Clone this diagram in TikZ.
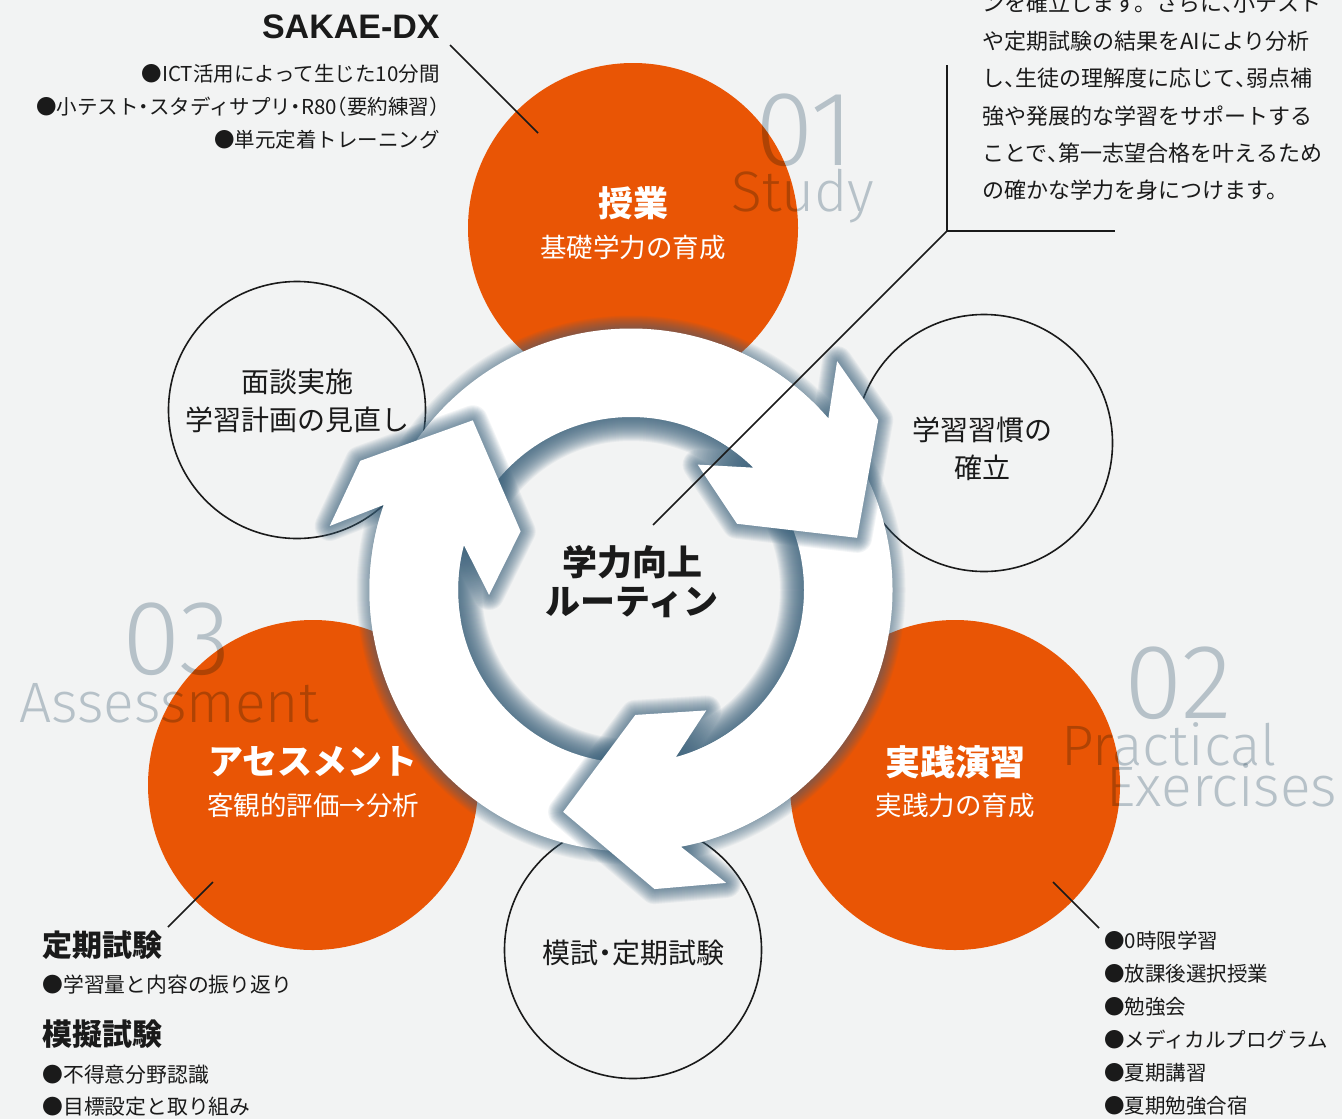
\documentclass[tikz,border=0pt]{standalone}
\usepackage{fontspec}
\setmainfont{Noto Sans CJK JP}
\newfontfamily\halfcjk{Noto Sans CJK JP}[RawFeature=+halt]
\newfontfamily\numfont{Fira Sans Light}
\newfontfamily\dxfont{Liberation Sans}
\usepackage{xcolor}
\usetikzlibrary{positioning}
\newcommand{\hw}[1]{{\halfcjk #1}}
\definecolor{bgc}{RGB}{242,243,243}
\definecolor{sakaeorange}{RGB}{233,85,5}
\definecolor{numgray}{RGB}{192,203,210}
\definecolor{shadowblue}{RGB}{62,100,126}
\definecolor{inkc}{RGB}{26,26,26}
\tikzset{
  stage/.style={
    circle,
    fill=sakaeorange,
    minimum size=165pt,
    inner sep=0pt
  },
  habit/.style={
    circle,
    draw=inkc,
    line width=0.8pt,
    minimum size=128.5pt,
    inner sep=0pt
  },
  stagetitle/.style={
    text=white,
    inner sep=0pt,
    font=\fontsize{17.5}{21}\selectfont\bfseries
  },
  stagesub/.style={
    text=white,
    inner sep=0pt,
    font=\fontsize{13.25}{16}\selectfont
  },
  habitlabel/.style={
    text=inkc,
    inner sep=0pt,
    align=center,
    font=\fontsize{14}{19}\selectfont
  },
  bignum/.style={
    text=numgray,
    inner sep=0pt,
    anchor=base,
    font=\numfont\fontsize{53}{53}\selectfont
  },
  bigword/.style={
    text=numgray,
    inner sep=0pt,
    anchor=base,
    font=\numfont\fontsize{28.5}{28.5}\selectfont
  },
  note/.style={
    text=inkc,
    inner sep=0pt,
    font=\fontsize{10.25}{16.5}\selectfont
  },
  notehead/.style={
    text=inkc,
    inner sep=0pt,
    font=\fontsize{15}{18}\selectfont\bfseries
  },
  leader/.style={draw=inkc, line width=0.75pt},
  glow/.style={draw=shadowblue, draw opacity=0.055, line join=round, line cap=round}
}

\begin{document}
\begin{tikzpicture}[x=0.5pt, y=-0.5pt]
  \useasboundingbox (0,0) rectangle (1342,1119);
  \fill[bgc] (0,0) rectangle (1342,1119);

  % stages and habit circles
  \node[stage] (study) at (633,228) {};
  \node[stage] (practice) at (955,785) {};
  \node[stage] (assess) at (313,785) {};

  \node[habit] (interview) at (297,410) {};
  \node[habit] (habits) at (984,443) {};
  \node[habit] (mock) at (633,950) {};

  \node[stagetitle] (studytitle) at (633,203) {授業};
  \node[stagesub] (studysub) at (633,247) {基礎学力の育成};
  \node[stagetitle] (practicetitle) at (955,762) {実践演習};
  \node[stagesub] (practicesub) at (955,805) {実践力の育成};
  \node[stagetitle] (assesstitle) at (313,762) {アセスメント};
  \node[stagesub] (assesssub) at (313,805) {客観的評価→分析};

  \node[habitlabel] (interviewlabel) at (297,401) {面談実施\\学習計画の見直し};
  \node[habitlabel] (habitslabel) at (982,449) {学習習慣の\\確立};
  \node[habitlabel] (mocklabel) at (633,953) {模試\hw{・}定期試験};

  % step numbers
  \begin{scope}[blend mode=multiply]
    \node[bignum] (num01) at (805,165) {01};
    \node[bigword] (word01) at (803,211) {Study};
    \node[bignum] (num02) at (1178,718) {02};
    \node[bigword] (word02a) at (1169,765) {Practical};
    \node[bigword] (word02b) at (1222,806) {Exercises};
    \node[bignum] (num03) at (177,674) {03};
    \node[bigword] (word03) at (169,722) {Assessment};
  \end{scope}

  % ring
  \coordinate (hub) at (631,590);
  \foreach \w in {1,...,13}
    \draw[glow, line width=\w pt] (hub) circle (261.5);
  \foreach \w in {1,...,24}
    \draw[glow, draw opacity=0.065, line width=\w pt] (hub) circle (173);
  \fill[white, even odd rule] (hub) circle (261.5) (hub) circle (173);

  % arrow heads
  \foreach \turn in {0,120,240} {
    \begin{scope}[shift={(hub)}, rotate=-\turn]
      \foreach \w in {1,...,15}
        \draw[glow, draw opacity=0.065, line width=\w pt] (-41:261.5) -- (-48:308) -- (-34.5:300) -- (-13:232) -- (-32:125) -- (-62:142) -- (-45:173);
      \fill[white] (-70:261.5) arc[start angle=-70, end angle=-41, radius=261.5]
        -- (-48:308) -- (-34.5:300) -- (-13:232) -- (-32:125) -- (-62:142) -- (-45:173)
        arc[start angle=-45, end angle=-70, radius=173] -- cycle;
    \end{scope}
  }

  \node[inner sep=0pt, align=center, text=inkc, font=\fontsize{17.5}{19.5}\selectfont\bfseries] (routine) at (632,582) {学力向上\\ルーティン};

  % notes
  \node[text=inkc, inner sep=0pt, anchor=base east, font=\dxfont\bfseries\fontsize{17}{18}\selectfont] (dxtitle) at (440,39) {SAKAE-DX};
  \node[note, align=right, anchor=north east] (dxlist) at (440,64) {●ICT活用によって生じた10分間\\●小テスト\hw{・}スタディサプリ\hw{・}R80\hw{（}要約練習\hw{）}\\●単元定着トレーニング};

  \node[note, align=left, anchor=north west, font=\fontsize{11}{18.7}\selectfont] (aiguide) at (982,-7) {ンを確立します。さらに\hw{、}小テスト\\や定期試験の結果をAIにより分析\\し\hw{、}生徒の理解度に応じて\hw{、}弱点補\\強や発展的な学習をサポートする\\ことで\hw{、}第一志望合格を叶えるため\\の確かな学力を身につけます。};

  \node[notehead, anchor=west] (regularexam) at (42,945) {定期試験};
  \node[note, anchor=west, font=\fontsize{10.4}{16}\selectfont] (regularnote) at (42,985) {●学習量と内容の振り返り};
  \node[notehead, anchor=west] (mockexam) at (42,1034) {模擬試験};
  \node[note, align=left, anchor=north west, font=\fontsize{10.4}{16}\selectfont] (mocknote) at (42,1065) {●不得意分野認識\\●目標設定と取り組み};

  \node[note, align=left, anchor=north west] (practicelist) at (1104,931) {●0時限学習\\●放課後選択授業\\●勉強会\\●メディカルプログラム\\●夏期講習\\●夏期勉強合宿};

  % leaders
  \coordinate (dxfoot) at (450,45);
  \coordinate (dxtip) at (538,133);
  \coordinate (examfoot) at (168,927);
  \coordinate (examtip) at (213,882);
  \coordinate (practicetip) at (1053,882);
  \coordinate (practicefoot) at (1099,928);
  \coordinate (guidetop) at (947,65);
  \coordinate (guidecorner) at (947,231);
  \coordinate (guideend) at (1115,231);
  \coordinate (routinetip) at (653,525);

  \draw[leader] (dxfoot) -- (dxtip);
  \draw[leader] (examfoot) -- (examtip);
  \draw[leader] (practicetip) -- (practicefoot);
  \draw[leader] (guidetop) -- (guidecorner) -- (guideend);
  \draw[leader] (guidecorner) -- (routinetip);
\end{tikzpicture}
\end{document}
